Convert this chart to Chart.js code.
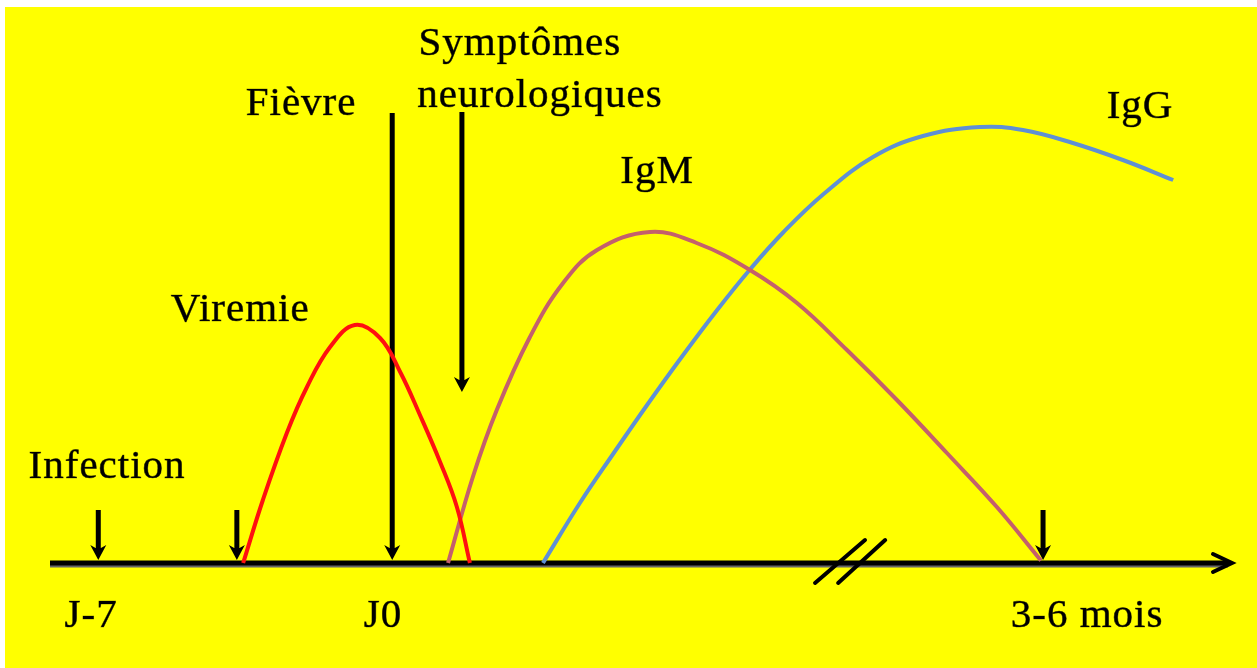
<!DOCTYPE html>
<html>
<head>
<meta charset="utf-8">
<script src="https://cdn.jsdelivr.net/npm/chart.js@4"></script>
<style>
  html, body { margin: 0; padding: 0; background: #fff; }
  canvas { display: block; }
</style>
</head>
<body>
<canvas id="chart" width="1257" height="668"></canvas>
<script>
// Cinétique virémie / IgM / IgG — x en jours (J0 = début fièvre), y en intensité relative 0..100

// Virémie
const viremieX = [-3.55, -3.08, -2.51, -2.03, -1.48, -0.89, -0.29, 0.19, 0.66, 1.14, 1.54, 1.85];
const viremieY = [0, 12.6, 26, 35.2, 43.2, 47.6, 45, 38.2, 29.6, 20.2, 11.2, 0];

// IgM
const igmX = [1.33, 1.92, 2.49, 3.28, 4.07, 4.88, 6.14, 7.25, 8.52, 9.64, 10.83, 12.02, 13.21, 14.40, 15.45];
const igmY = [0, 17.2, 30.6, 45.2, 56, 62.6, 66.2, 64, 58.6, 52, 42.6, 32.6, 22, 11.2, 0.5];

// IgG
const iggX = [3.59, 4.47, 5.26, 6.07, 6.85, 7.73, 8.52, 9.31, 10.26, 11.45, 12.64, 14.0, 15.02, 16.21, 17.40, 18.60];
const iggY = [0, 12, 21.8, 31.6, 40.7, 50.5, 58.7, 66.1, 73.7, 81.2, 85.4, 87.2, 86.6, 84, 80.6, 76.6];

// repères (flèches) : position en jours, haut et bas de la flèche
const markerX = [-7, -3.7, 0, 1.66, 15.5];
const markerTop = [10.6, 10.6, 90, 90.2, 10.6];
const markerBottom = [0.6, 0.6, 0.6, 34.2, 0.6];

// graduations de l'axe
const tickLabels = ['J-7', 'J0', '3-6 mois'];
const tickX = [-7.17, -0.22, 16.55];
const tickY = -12.8;

// textes (centre, ligne de base)
const notes = [
    { text: 'Infection', x: -6.79, y: 17 },
    { text: 'Viremie', x: -3.62, y: 48.4 },
    { text: 'Fièvre', x: -2.17, y: 89.6 },
    { text: 'Symptômes', x: 3.04, y: 101.6 },
    { text: 'neurologiques', x: 3.52, y: 91.2 },
    { text: 'IgM', x: 6.31, y: 76 },
    { text: 'IgG', x: 17.81, y: 89 },
];

const FONT = '41px "Liberation Serif", "Times New Roman", serif';
const pts = (xs, ys) => xs.map((x, i) => ({ x, y: ys[i] }));

function arrowHead(ctx, x, y, w, h) {
    ctx.beginPath();
    ctx.moveTo(x, y);
    ctx.lineTo(x - w / 2, y - h);
    ctx.lineTo(x - w / 6, y - h * 0.8);
    ctx.lineTo(x + w / 6, y - h * 0.8);
    ctx.lineTo(x + w / 2, y - h);
    ctx.closePath();
    ctx.fill();
}

const decor = {
    id: 'decor',
    beforeDraw(chart) {
        const ctx = chart.ctx;
        ctx.save();
        ctx.fillStyle = '#ffffff';
        ctx.fillRect(0, 0, chart.width, chart.height);
        ctx.fillStyle = '#ffff00';
        ctx.fillRect(5, 7, chart.width - 5, chart.height - 7);
        ctx.restore();
    },
    beforeDatasetsDraw(chart) {
        const ctx = chart.ctx;
        const xs = chart.scales.x, ys = chart.scales.y;
        const y0 = ys.getPixelForValue(0);
        ctx.save();

        // axe du temps
        ctx.strokeStyle = '#666';
        ctx.lineWidth = 3;
        ctx.beginPath();
        ctx.moveTo(chart.chartArea.left, y0 + 3);
        ctx.lineTo(chart.chartArea.right - 4, y0 + 3);
        ctx.stroke();
        ctx.strokeStyle = '#000';
        ctx.lineWidth = 5;
        ctx.beginPath();
        ctx.moveTo(chart.chartArea.left, y0);
        ctx.lineTo(chart.chartArea.right - 2, y0);
        ctx.stroke();
        // pointe de l'axe
        const tip = chart.chartArea.right;
        ctx.lineWidth = 4;
        ctx.lineCap = 'round';
        ctx.beginPath();
        ctx.moveTo(tip - 19, y0 - 9);
        ctx.lineTo(tip, y0);
        ctx.lineTo(tip - 19, y0 + 9);
        ctx.stroke();

        // coupure //
        ctx.lineWidth = 4;
        [[10.07, 11.26], [10.62, 11.74]].forEach(([a, b]) => {
            ctx.beginPath();
            ctx.moveTo(xs.getPixelForValue(a), ys.getPixelForValue(-4));
            ctx.lineTo(xs.getPixelForValue(b), ys.getPixelForValue(4.6));
            ctx.stroke();
        });

        // flèches
        ctx.fillStyle = '#000';
        ctx.lineCap = 'butt';
        ctx.lineWidth = 5;
        markerX.forEach((v, i) => {
            const px = xs.getPixelForValue(v);
            const top = ys.getPixelForValue(markerTop[i]);
            const bot = ys.getPixelForValue(markerBottom[i]);
            ctx.beginPath();
            ctx.moveTo(px, top);
            ctx.lineTo(px, bot - 10);
            ctx.stroke();
            arrowHead(ctx, px, bot, 16, 15);
        });
        ctx.restore();
    },
    afterDatasetsDraw(chart) {
        const ctx = chart.ctx;
        const xs = chart.scales.x, ys = chart.scales.y;
        ctx.save();
        ctx.fillStyle = '#000';
        ctx.strokeStyle = 'rgba(0,0,0,0.6)';
        ctx.lineWidth = 0.7;
        ctx.font = FONT;
        ctx.letterSpacing = '1px';
        ctx.textAlign = 'center';
        ctx.textBaseline = 'alphabetic';
        const put = (t, x, y) => {
            const px = xs.getPixelForValue(x), py = ys.getPixelForValue(y);
            ctx.fillText(t, px, py);
            ctx.strokeText(t, px, py);
        };
        notes.forEach(n => put(n.text, n.x, n.y));
        tickLabels.forEach((t, i) => put(t, tickX[i], tickY));
        ctx.restore();
    },
};

const line = (data, color) => ({
    data: pts(...data),
    showLine: true,
    borderColor: color,
    borderWidth: 4,
    pointRadius: 0,
    tension: 0.4,
    clip: false,
});

new Chart(document.getElementById('chart'), {
    type: 'scatter',
    data: {
        datasets: [
            line([viremieX, viremieY], '#ff1010'),
            line([igmX, igmY], '#c4606c'),
            line([iggX, iggY], '#5f90d4'),
        ],
    },
    options: {
        responsive: false,
        animation: false,
        layout: { padding: { left: 50, right: 25, top: 63, bottom: 105 } },
        plugins: { legend: { display: false }, tooltip: { enabled: false } },
        scales: {
            x: { type: 'linear', min: -8.15, max: 20, display: false },
            y: { type: 'linear', min: 0, max: 100, display: false },
        },
    },
    plugins: [decor],
});
</script>
</body>
</html>
